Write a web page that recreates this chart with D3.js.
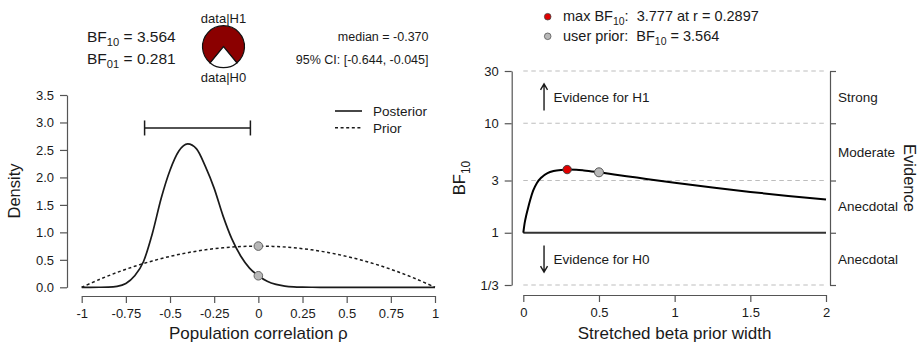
<!DOCTYPE html>
<html>
<head>
<meta charset="utf-8">
<script src="https://cdn.jsdelivr.net/npm/d3@7"></script>
<style>
  body { margin: 0; background: #fff; }
  svg { display: block; font-family: "Liberation Sans", Arial, sans-serif; }
  .pre { white-space: pre; }
</style>
</head>
<body>
<svg id="chart" width="919" height="346"></svg>
<script>
// ---- Prior and posterior for the correlation rho ----
const rhoGrid = [-1, -0.95, -0.9, -0.85, -0.8, -0.75, -0.7, -0.65, -0.6, -0.55, -0.5,
  -0.45, -0.4, -0.35, -0.3, -0.25, -0.2, -0.15, -0.1, -0.05, 0,
  0.05, 0.1, 0.15, 0.2, 0.25, 0.3, 0.35, 0.4, 0.45, 0.5,
  0.55, 0.6, 0.65, 0.7, 0.75, 0.8, 0.85, 0.9, 0.95, 1];
const posteriorDensity = [0, 0, 0.001, 0.004, 0.018, 0.07, 0.21, 0.47, 0.98, 1.62, 2.13,
  2.48, 2.61, 2.52, 2.2, 1.8, 1.3, 0.88, 0.57, 0.35, 0.21,
  0.11, 0.052, 0.023, 0.009, 0.0035, 0.0012, 0.0004, 0.0001, 0, 0,
  0, 0, 0, 0, 0, 0, 0, 0, 0, 0];
const priorRho = [-1, -0.9, -0.8, -0.7, -0.6, -0.5, -0.4, -0.3, -0.2, -0.1, 0,
  0.1, 0.2, 0.3, 0.4, 0.5, 0.6, 0.7, 0.8, 0.9, 1];
const priorDensity = [0, 0.1425, 0.27, 0.3825, 0.48, 0.5625, 0.63, 0.6825, 0.72, 0.7425, 0.75,
  0.7425, 0.72, 0.6825, 0.63, 0.5625, 0.48, 0.3825, 0.27, 0.1425, 0];
const posteriorAtZero = 0.21;
const priorAtZero = 0.75;
const ciLower = -0.644, ciUpper = -0.045, posteriorMedian = -0.370;
const bf10 = 3.564, bf01 = 0.281;
const rhoTicks = [-1, -0.75, -0.5, -0.25, 0, 0.25, 0.5, 0.75, 1];
const rhoTickLabels = ["-1", "-0.75", "-0.5", "-0.25", "0", "0.25", "0.5", "0.75", "1"];
const densityTicks = [0, 0.5, 1, 1.5, 2, 2.5, 3, 3.5];
const densityTickLabels = ["0.0", "0.5", "1.0", "1.5", "2.0", "2.5", "3.0", "3.5"];

// ---- Bayes factor robustness over the stretched beta prior width ----
const priorWidth = [0, 0.01, 0.02, 0.03, 0.045, 0.065, 0.09, 0.12, 0.16, 0.2, 0.25, 0.2897,
  0.35, 0.4, 0.5, 0.6, 0.75, 1, 1.25, 1.5, 1.75, 2];
const bfByWidth = [1, 1.25, 1.45, 1.65, 1.98, 2.42, 2.85, 3.2, 3.5, 3.66, 3.75, 3.777,
  3.76, 3.71, 3.564, 3.41, 3.19, 2.86, 2.59, 2.36, 2.17, 2.01];
const maxBF = 3.777, maxWidth = 0.2897;
const userWidth = 0.5, userBF = 3.564;
const widthTicks = [0, 0.5, 1, 1.5, 2];
const widthTickLabels = ["0", "0.5", "1", "1.5", "2"];
const bfTicks = [1 / 3, 1, 3, 10, 30];
const bfTickLabels = ["1/3", "1", "3", "10", "30"];
const evidenceBands = [[10, 30, "Strong"], [3, 10, "Moderate"], [1, 3, "Anecdotal"], [1 / 3, 1, "Anecdotal"]];

const svg = d3.select("#chart");
const ink = "#1a1a1a";
const axisInk = "#555";

function styleAxis(g, fontSize) {
  g.select(".domain").attr("stroke", axisInk).attr("stroke-width", 1.2);
  g.selectAll(".tick line").attr("stroke", axisInk).attr("stroke-width", 1.2);
  g.selectAll(".tick text").attr("fill", ink).attr("font-size", fontSize)
    .attr("font-family", "Liberation Sans, Arial, sans-serif");
}

// subscripted text helper: base, sub, rest
function subText(sel, base, sub, rest, size) {
  sel.append("tspan").text(base);
  sel.append("tspan").attr("font-size", size * 0.72).attr("dy", size * 0.28).text(sub);
  sel.append("tspan").attr("dy", -size * 0.28).text(rest);
}

// ================= Left panel: prior and posterior =================
const xL = d3.scaleLinear().domain([-1, 1]).range([81.7, 435]);
const yL = d3.scaleLinear().domain([0, 3.5]).range([287.3, 95]);

const gyL = svg.append("g").attr("transform", "translate(67,0)")
  .call(d3.axisLeft(yL).tickValues(densityTicks)
    .tickFormat((d, i) => densityTickLabels[i]).tickSize(7).tickSizeOuter(0).tickPadding(6));
styleAxis(gyL, 13);

const gxL = svg.append("g").attr("transform", "translate(0,296)")
  .call(d3.axisBottom(xL).tickValues(rhoTicks)
    .tickFormat((d, i) => rhoTickLabels[i]).tickSize(7).tickSizeOuter(0).tickPadding(6));
styleAxis(gxL, 13);

svg.append("text").attr("transform", "translate(20,191) rotate(-90)")
  .attr("text-anchor", "middle").attr("font-size", 16.5).attr("fill", ink).text("Density");
svg.append("text").attr("x", (xL(-1) + xL(1)) / 2).attr("y", 339)
  .attr("text-anchor", "middle").attr("font-size", 17).attr("fill", ink).text("Population correlation ρ");

const priorLine = d3.line().x((d, i) => xL(priorRho[i])).y(d => yL(d)).curve(d3.curveCatmullRom);
svg.append("path").attr("d", priorLine(priorDensity))
  .attr("fill", "none").attr("stroke", ink).attr("stroke-width", 1.5).attr("stroke-dasharray", "3,2.6");

const postLine = d3.line().x((d, i) => xL(rhoGrid[i])).y(d => yL(d)).curve(d3.curveMonotoneX);
svg.append("path").attr("d", postLine(posteriorDensity))
  .attr("fill", "none").attr("stroke", ink).attr("stroke-width", 1.7);

// 95% credible interval bar
const ciY = yL(2.9);
svg.append("line").attr("x1", xL(ciLower)).attr("x2", xL(ciUpper)).attr("y1", ciY).attr("y2", ciY)
  .attr("stroke", ink).attr("stroke-width", 1.5);
[ciLower, ciUpper].forEach(v => {
  svg.append("line").attr("x1", xL(v)).attr("x2", xL(v)).attr("y1", ciY - 7.5).attr("y2", ciY + 7.5)
    .attr("stroke", ink).attr("stroke-width", 1.5);
});

// densities at rho = 0
[priorAtZero, posteriorAtZero].forEach(v => {
  svg.append("circle").attr("cx", xL(0)).attr("cy", yL(v)).attr("r", 4.3)
    .attr("fill", "#b8b8b8").attr("stroke", "#666").attr("stroke-width", 1);
});

// legend
svg.append("line").attr("x1", 335).attr("x2", 362).attr("y1", 111).attr("y2", 111)
  .attr("stroke", ink).attr("stroke-width", 1.6);
svg.append("line").attr("x1", 335).attr("x2", 362).attr("y1", 127.7).attr("y2", 127.7)
  .attr("stroke", ink).attr("stroke-width", 1.5).attr("stroke-dasharray", "3,2.6");
svg.append("text").attr("x", 373).attr("y", 115.8).attr("font-size", 13.5).attr("fill", ink).text("Posterior");
svg.append("text").attr("x", 373).attr("y", 132.5).attr("font-size", 13.5).attr("fill", ink).text("Prior");

// Bayes factor text
subText(svg.append("text").attr("x", 87).attr("y", 42).attr("font-size", 15.5).attr("fill", ink),
  "BF", "10", " = " + bf10.toFixed(3), 15.5);
subText(svg.append("text").attr("x", 87).attr("y", 64).attr("font-size", 15.5).attr("fill", ink),
  "BF", "01", " = " + bf01.toFixed(3), 15.5);

// probability wheel
const pieCx = 223.5, pieCy = 46.7, pieR = 21;
const p1 = bf10 / (bf10 + 1);
const pie = d3.pie().sort(null).startAngle(-Math.PI * p1).endAngle(2 * Math.PI - Math.PI * p1);
const arc = d3.arc().innerRadius(0).outerRadius(pieR);
const wheel = svg.append("g").attr("transform", `translate(${pieCx},${pieCy})`);
wheel.selectAll("path").data(pie([bf10, 1])).join("path")
  .attr("d", arc).attr("fill", (d, i) => i === 0 ? "#8b0000" : "#ffffff")
  .attr("stroke", "#111").attr("stroke-width", 1.2);
svg.append("text").attr("x", pieCx).attr("y", 22.5).attr("text-anchor", "middle")
  .attr("font-size", 13).attr("fill", ink).text("data|H1");
svg.append("text").attr("x", pieCx).attr("y", 82).attr("text-anchor", "middle")
  .attr("font-size", 13).attr("fill", ink).text("data|H0");

// posterior summary
svg.append("text").attr("x", 428.5).attr("y", 40.5).attr("text-anchor", "end")
  .attr("font-size", 12.5).attr("fill", ink).text("median = " + posteriorMedian.toFixed(3));
svg.append("text").attr("x", 428.5).attr("y", 63.5).attr("text-anchor", "end")
  .attr("font-size", 12.5).attr("fill", ink)
  .text(`95% CI: [${ciLower.toFixed(3)}, ${ciUpper.toFixed(3)}]`);

// ================= Right panel: robustness check =================
const xR = d3.scaleLinear().domain([0, 2]).range([523.3, 826]);
const yR = d3.scaleLog().domain([1 / 3, 30]).range([285, 71]);

const gyR = svg.append("g").attr("transform", "translate(511.7,0)")
  .call(d3.axisLeft(yR).tickValues(bfTicks)
    .tickFormat((d, i) => bfTickLabels[i]).tickSize(7).tickSizeOuter(0).tickPadding(6));
styleAxis(gyR, 13);

const gyR2 = svg.append("g").attr("transform", "translate(830,0)")
  .call(d3.axisRight(yR).tickValues(bfTicks).tickFormat("").tickSize(6).tickSizeOuter(0));
styleAxis(gyR2, 13);

const gxR = svg.append("g").attr("transform", "translate(0,295)")
  .call(d3.axisBottom(xR).tickValues(widthTicks)
    .tickFormat((d, i) => widthTickLabels[i]).tickSize(7).tickSizeOuter(0).tickPadding(6));
styleAxis(gxR, 13);

// reference lines
bfTicks.filter(v => v !== 1).forEach(v => {
  svg.append("line").attr("x1", xR(0)).attr("x2", xR(2)).attr("y1", yR(v)).attr("y2", yR(v))
    .attr("stroke", "#bdbdbd").attr("stroke-width", 1).attr("stroke-dasharray", "4.5,3.5");
});
svg.append("line").attr("x1", xR(0)).attr("x2", xR(2)).attr("y1", yR(1)).attr("y2", yR(1))
  .attr("stroke", "#333").attr("stroke-width", 2);

// evidence categories
evidenceBands.forEach(([lo, hi, label]) => {
  svg.append("text").attr("x", 838).attr("y", yR(Math.sqrt(lo * hi)))
    .attr("dy", "0.35em").attr("font-size", 13.5).attr("fill", ink).text(label);
});
svg.append("text").attr("transform", `translate(903.5,${(yR(30) + yR(1 / 3)) / 2}) rotate(90)`)
  .attr("text-anchor", "middle").attr("font-size", 16.5).attr("fill", ink).text("Evidence");

// direction arrows
function arrow(yMid, up) {
  const x = xR(0.137), h = 13.3, s = up ? -1 : 1;
  const tip = yMid + s * h;
  svg.append("path")
    .attr("d", `M${x},${yMid - s * h}L${x},${tip}M${x - 3.5},${tip - s * 6}L${x},${tip}L${x + 3.5},${tip - s * 6}`)
    .attr("fill", "none").attr("stroke", ink).attr("stroke-width", 1.4);
}
const yH1 = yR(Math.sqrt(10 * 30)), yH0 = yR(Math.sqrt(1 / 3));
arrow(yH1, true);
arrow(yH0, false);
svg.append("text").attr("x", 553.5).attr("y", yH1).attr("dy", "0.35em")
  .attr("font-size", 13.5).attr("fill", ink).text("Evidence for H1");
svg.append("text").attr("x", 553.5).attr("y", yH0).attr("dy", "0.35em")
  .attr("font-size", 13.5).attr("fill", ink).text("Evidence for H0");

// BF curve
const bfLine = d3.line().x((d, i) => xR(priorWidth[i])).y(d => yR(d)).curve(d3.curveMonotoneX);
svg.append("path").attr("d", bfLine(bfByWidth))
  .attr("fill", "none").attr("stroke", "#000").attr("stroke-width", 2);

svg.append("circle").attr("cx", xR(maxWidth)).attr("cy", yR(maxBF)).attr("r", 4.2)
  .attr("fill", "#e00000").attr("stroke", "#444").attr("stroke-width", 1);
svg.append("circle").attr("cx", xR(userWidth)).attr("cy", yR(userBF)).attr("r", 4.5)
  .attr("fill", "#b8b8b8").attr("stroke", "#555").attr("stroke-width", 1);

svg.append("text").attr("transform", `translate(465,${(yR(30) + yR(1 / 3)) / 2}) rotate(-90)`)
  .attr("text-anchor", "middle").attr("font-size", 16.5).attr("fill", ink)
  .call(t => subText(t, "BF", "10", "", 16.5));
svg.append("text").attr("x", (xR(0) + xR(2)) / 2).attr("y", 339)
  .attr("text-anchor", "middle").attr("font-size", 17).attr("fill", ink).text("Stretched beta prior width");

// top legend
svg.append("circle").attr("cx", 547.7).attr("cy", 16.7).attr("r", 3.3)
  .attr("fill", "#e00000").attr("stroke", "#444").attr("stroke-width", 0.8);
svg.append("circle").attr("cx", 547.7).attr("cy", 36.3).attr("r", 3.3)
  .attr("fill", "#b8b8b8").attr("stroke", "#555").attr("stroke-width", 0.8);
subText(svg.append("text").attr("class", "pre").attr("x", 563).attr("y", 21).attr("font-size", 14.5).attr("fill", ink),
  "max BF", "10", ":  " + maxBF.toFixed(3) + " at r = " + maxWidth.toFixed(4), 14.5);
subText(svg.append("text").attr("class", "pre").attr("x", 563).attr("y", 40.5).attr("font-size", 14.5).attr("fill", ink),
  "user prior:  BF", "10", " = " + userBF.toFixed(3), 14.5);
</script>
</body>
</html>
